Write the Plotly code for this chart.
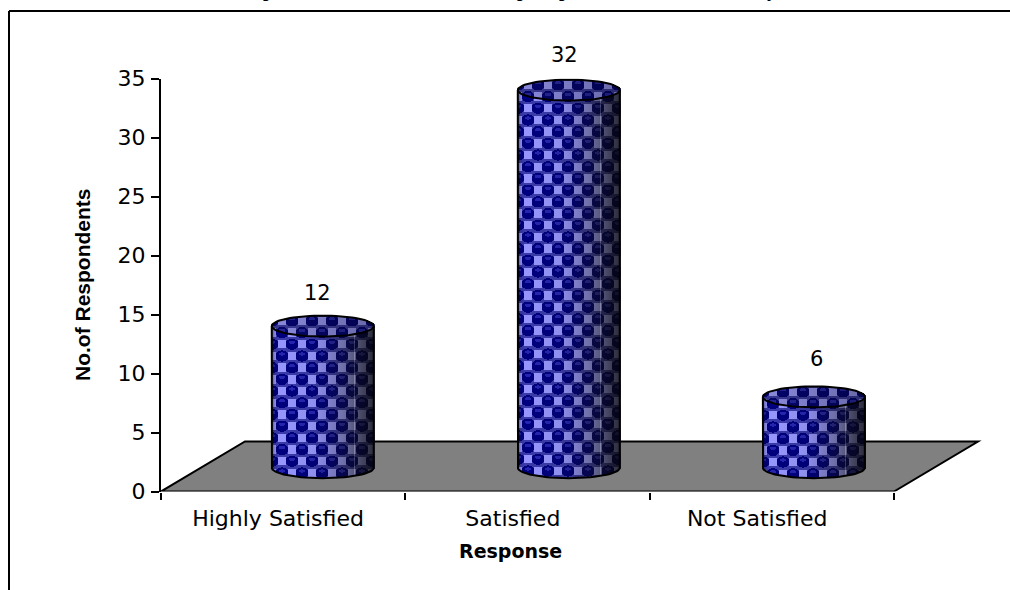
import numpy as np
import plotly.graph_objects as go

# Survey responses
categories = ["Highly Satisfied", "Satisfied", "Not Satisfied"]
respondents = [12, 32, 6]
y_ticks = [0, 5, 10, 15, 20, 25, 30, 35]
y_title = "No.of Respondents"
x_title = "Response"
clipped_title_glyphs = ["p", "p", "p", "y"]

# Plot geometry, in pixels of the 1010x590 page
W, H = 1010, 590
AX_L, AX_R, AX_B, AX_T = 161, 894, 491.5, 78.5
PX_X = (AX_R - AX_L) / 3.0          # pixels per category
PX_Y = (AX_B - AX_T) / 35.0         # pixels per respondent
DEPTH_X, DEPTH_Y = 84 / PX_X, 50 / PX_Y   # oblique depth of the floor
CENTRES = [0.662, 1.669, 2.672]
LABEL_POS = [0.479, 1.44, 2.44]
VALUE_SHIFT_X = [-5, -4, 3]
VALUE_SHIFT_Y = [33, 35, 38]
GLYPH_PX = [268, 522, 564, 772]
BAR_W = 102 / PX_X
BASE = 2.02
RY = 10.5 / PX_Y

x_max = (W - 28 - AX_L) / PX_X
FONT = "DejaVu Sans"
BOLD_FONT = "Liberation Sans"
TICK_SIZE = 22


def cylinder_texture(value):
    """RGBA pixels of one textured cylinder, row 0 at the lowest y value."""
    nx = int(BAR_W * PX_X) + 1
    y_lo = BASE - RY
    y_hi = BASE + value + RY
    ny = int((y_hi - y_lo) * PX_Y) + 1
    px = np.arange(nx)[None, :] + 0.5
    py = np.arange(ny)[:, None] + 0.5
    t = px / nx
    u = 2 * t - 1
    arc = np.sqrt(np.clip(1 - u ** 2, 0, 1)) * RY * PX_Y
    y_px_from_base = py - RY * PX_Y
    top_px = value * PX_Y
    inside = (y_px_from_base >= -arc) & (y_px_from_base <= top_px + arc)
    top_face = y_px_from_base >= top_px - arc

    # staggered lattice of dark beads and pale squares
    period, row_h = 20.0, 11.7
    yy = (ny - py)
    row = np.floor(yy / row_h)
    phase = px + 10 * (row % 2)
    dx = ((phase + 10) % period) - 10
    dy = (yy % row_h) - row_h / 2
    rgb = np.zeros((ny, nx, 3)) + np.array([58, 58, 172])
    square = (np.abs(np.abs(dx) - 10) < 4.4) & (np.abs(dy) < 4.2)
    rgb[square] = [150, 150, 255]
    bead = (dx / 6.4) ** 2 + (dy / 5.6) ** 2 < 1
    rgb[bead] = [0, 0, 128]
    cap = ((dx / 3.4) ** 2 + ((dy + 2.0) / 1.6) ** 2 < 1)
    rgb[cap] = [36, 36, 178]

    # light falls from the left, the right side fades to a dull navy
    shade = np.interp(t, [0, 0.02, 0.06, 0.40, 0.70, 0.88, 1.0],
                      [0.5, 0.85, 1.0, 0.95, 0.70, 0.42, 0.25])
    shade = np.where(top_face, 0.90 - 0.22 * t, shade)
    dull = np.interp(t, [0, 0.5, 0.8, 1.0], [0, 0.05, 0.32, 0.45])
    dull = np.where(top_face, 0.12, dull)
    grey = rgb.mean(axis=2, keepdims=True)
    rgb = rgb * (1 - dull[..., None]) + grey * dull[..., None]
    rgb = rgb * shade[..., None]
    # thin highlight running up the shaded side
    streak = np.abs(t - 0.8) < 0.006
    rgb = np.where((streak & ~top_face)[..., None], rgb + 45, rgb)

    alpha = np.where(inside, 255, 0)
    return np.dstack([np.clip(rgb, 0, 255), alpha]).astype(np.uint8)


def cylinder_outline(centre, value):
    """Side walls, front base arc and the full top ellipse."""
    ang = np.linspace(0, 2 * np.pi, 73)
    a = BAR_W / 2
    top = BASE + value
    xs = list(centre + a * np.cos(ang)) + [None]
    ys = list(top + RY * np.sin(ang)) + [None]
    front = np.linspace(np.pi, 2 * np.pi, 37)
    xs += [centre - a] + list(centre + a * np.cos(front)) + [centre + a]
    ys += [top] + list(BASE + RY * np.sin(front)) + [top]
    return xs, ys


fig = go.Figure()

for centre, value, sx, sy in zip(CENTRES, respondents, VALUE_SHIFT_X, VALUE_SHIFT_Y):
    fig.add_trace(go.Image(
        z=cylinder_texture(value).tolist(), colormodel="rgba",
        x0=centre - BAR_W / 2 + 0.5 / PX_X, dx=1 / PX_X,
        y0=BASE - RY + 0.5 / PX_Y, dy=1 / PX_Y,
        hoverinfo="skip",
    ))
    ox, oy = cylinder_outline(centre, value)
    fig.add_trace(go.Scatter(
        x=ox, y=oy, mode="lines", cliponaxis=False, hoverinfo="skip",
        line=dict(color="#000000", width=2), showlegend=False,
    ))
    fig.add_annotation(
        x=centre, y=BASE + value, text=str(value), showarrow=False,
        xshift=sx, yshift=sy, font=dict(family=FONT, size=21, color="#000000"),
    )

# Grey floor of the oblique plot area
fig.add_shape(
    type="path", xref="x", yref="y", layer="below",
    path=f"M 0 0 L 3 0 L {3 + DEPTH_X} {DEPTH_Y} L {DEPTH_X} {DEPTH_Y} Z",
    fillcolor="#808080", line=dict(color="#000000", width=2),
)

# Frame: only the top and left edges fall inside the page
fig.add_shape(type="line", xref="paper", yref="paper", x0=9 / W, x1=1, y0=1 - 11 / H, y1=1 - 11 / H,
              line=dict(color="#000000", width=2))
fig.add_shape(type="line", xref="paper", yref="paper", x0=9 / W, x1=9 / W, y0=0, y1=1 - 11 / H,
              line=dict(color="#000000", width=2))

# Heading runs off the top of the page, leaving only its descenders
for glyph, gx in zip(clipped_title_glyphs, GLYPH_PX):
    fig.add_annotation(
        xref="paper", yref="paper", x=gx / W, y=1, yanchor="bottom", xanchor="center",
        yshift=-3, text=f"<b>{glyph}</b>", showarrow=False,
        font=dict(family="Liberation Serif", size=19, color="#000000"),
    )

fig.add_annotation(
    xref="paper", yref="paper", x=510 / W, y=1 - 551 / H, xanchor="center", yanchor="middle",
    text=f"<b>{x_title}</b>", showarrow=False,
    font=dict(family=FONT, size=19, color="#000000"),
)
fig.add_annotation(
    xref="paper", yref="paper", x=82 / W, y=1 - 285 / H, xanchor="center", yanchor="middle",
    text=f"<b>{y_title}</b>", showarrow=False, textangle=-90,
    font=dict(family=BOLD_FONT, size=21, color="#000000"),
)

fig.update_layout(
    width=W, height=H, autosize=False, showlegend=False,
    margin=dict(l=0, r=0, t=0, b=0, autoexpand=False),
    paper_bgcolor="#ffffff", plot_bgcolor="rgba(0,0,0,0)",
    xaxis=dict(
        domain=[AX_L / W, (AX_L + x_max * PX_X) / W], range=[0, x_max], autorange=False,
        showgrid=False, zeroline=False, showline=False,
        tickmode="array", tickvals=LABEL_POS, ticktext=categories, ticks="", ticklen=0,
        tickangle=0, ticklabelstandoff=11,
        tickfont=dict(family=FONT, size=TICK_SIZE, color="#000000"),
        minor=dict(tickmode="array", tickvals=[0, 1, 2, 3], ticks="outside", ticklen=7,
                   tickwidth=2, tickcolor="#000000", showgrid=False),
        constrain="domain",
    ),
    yaxis=dict(
        domain=[1 - AX_B / H, 1 - AX_T / H], range=[0, 35], autorange=False,
        scaleanchor="x", scaleratio=PX_Y / PX_X,
        showgrid=False, zeroline=False, showline=True, linecolor="#000000", linewidth=2,
        tickmode="array", tickvals=y_ticks, ticks="outside", ticklen=8, tickwidth=2,
        tickcolor="#000000", ticklabelstandoff=1,
        tickfont=dict(family=FONT, size=TICK_SIZE, color="#000000"),
        constrain="domain",
    ),
)

fig.write_html("out.html")
